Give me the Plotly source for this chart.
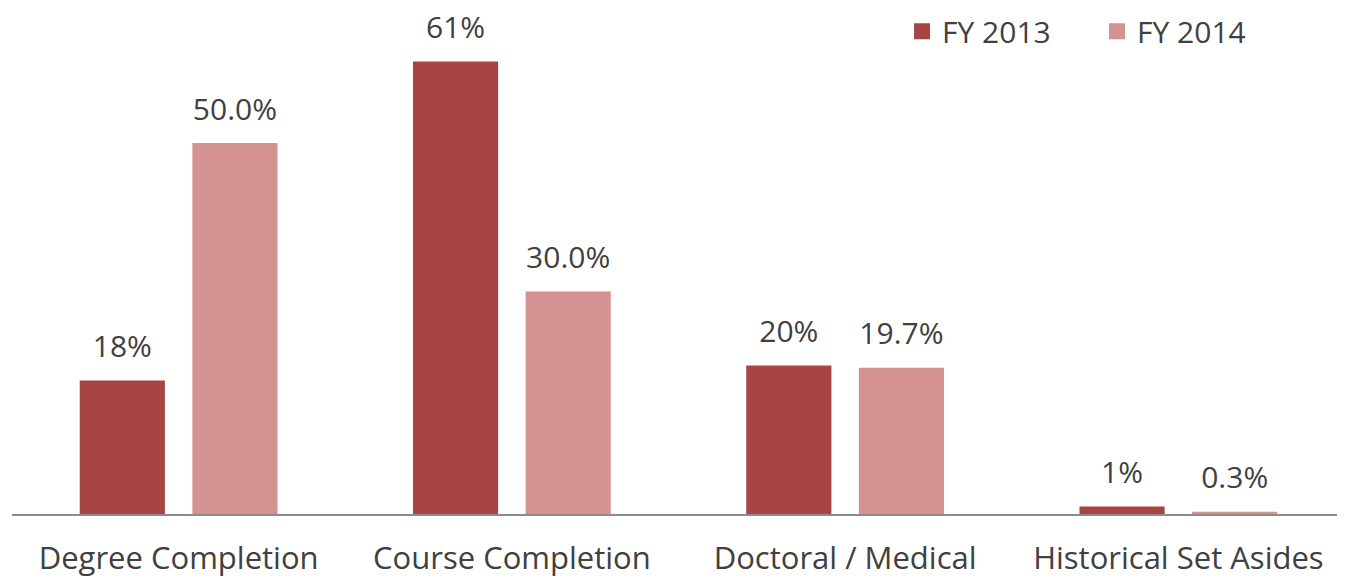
import plotly.graph_objects as go

categories = ["Degree Completion", "Course Completion", "Doctoral / Medical", "Historical Set Asides"]
fy2013 = [18, 61, 20, 1]
fy2014 = [50.0, 30.0, 19.7, 0.3]
fy2013_labels = ["18%", "61%", "20%", "1%"]
fy2014_labels = ["50.0%", "30.0%", "19.7%", "0.3%"]
series_names = ["FY 2013", "FY 2014"]
colors = ["#A84444", "#D49290"]

FONT = "'Open Sans', sans-serif"
TXT = "#404040"
FS = 30

fig = go.Figure()
for name, vals, col in zip(series_names, [fy2013, fy2014], colors):
    fig.add_trace(go.Bar(
        name=name, x=categories, y=vals, offsetgroup=name,
        marker=dict(color=col, line=dict(width=0)), showlegend=False,
    ))
for name, vals, labels in zip(series_names, [fy2013, fy2014], [fy2013_labels, fy2014_labels]):
    fig.add_trace(go.Scatter(
        name=name, x=categories, y=vals, offsetgroup=name, mode="markers+text",
        marker=dict(size=24, color="rgba(0,0,0,0)"), text=labels, textposition="top center",
        textfont=dict(family=FONT, size=FS, color=TXT), cliponaxis=False, showlegend=False,
        hoverinfo="skip",
    ))
# legend entries
for name, col in zip(series_names, colors):
    fig.add_trace(go.Scatter(
        name=name, x=[None], y=[None], mode="markers", xaxis="x2",
        marker=dict(symbol="square", size=16, color=col), showlegend=True,
    ))

fig.update_layout(
    width=1345, height=578,
    margin=dict(l=4, r=8, t=0, b=72, autoexpand=False),
    paper_bgcolor="white", plot_bgcolor="white",
    barmode="group", bargap=0.324, bargroupgap=0.244,
    scattermode="group", scattergap=0.324,
    font=dict(family=FONT, size=FS, color=TXT),
    legend=dict(orientation="h", x=0.6677, y=0.954, xanchor="left", yanchor="middle",
                font=dict(family=FONT, size=FS, color=TXT), bgcolor="rgba(0,0,0,0)",
                entrywidth=150, entrywidthmode="pixels"),
    xaxis=dict(showline=True, linecolor="#8c8c8c", linewidth=2, ticks="",
               ticklabelstandoff=16, tickfont=dict(family=FONT, size=31, color=TXT),
               showgrid=False, automargin=False),
    xaxis2=dict(overlaying="x", visible=False),
    yaxis=dict(range=[0, 68.2], visible=False, showgrid=False, automargin=False),
)

fig.write_html("out.html")
